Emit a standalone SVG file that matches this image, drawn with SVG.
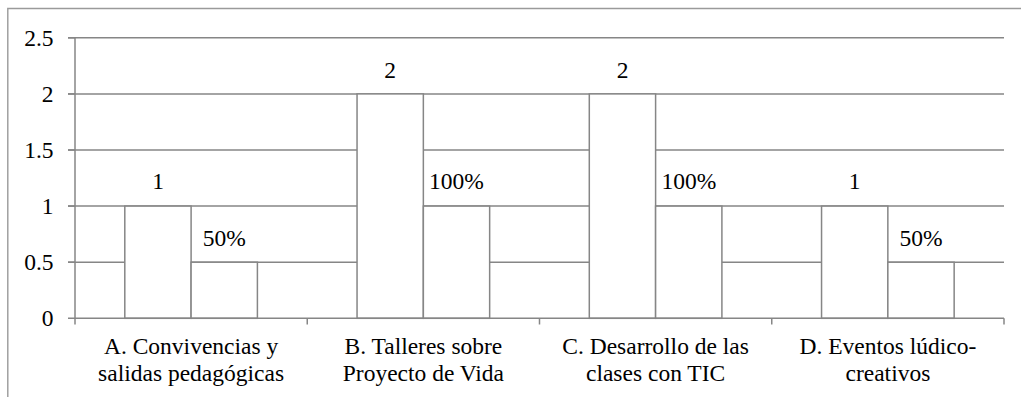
<svg xmlns="http://www.w3.org/2000/svg" width="1021" height="397" viewBox="0 0 1021 397">
  <style>
    .grid { stroke: #868686; stroke-width: 1.5; fill: none; }
    .axis { stroke: #868686; stroke-width: 1.5; fill: none; }
    .bar { fill: #ffffff; stroke: #868686; stroke-width: 1.5; }
    .frame { stroke: #9a9a9a; stroke-width: 1.4; fill: none; }
    .yl { text-anchor: end; }
    .c { text-anchor: middle; }
  </style>
  <rect x="0" y="0" width="1021" height="397" fill="#ffffff"/>
  <path class="frame" d="M1021,8.5 H7.8 V397"/>

  <g id="gridlines">
    <line class="grid" x1="68" y1="37.8" x2="1004" y2="37.8"/>
    <line class="grid" x1="68" y1="93.9" x2="1004" y2="93.9"/>
    <line class="grid" x1="68" y1="150.0" x2="1004" y2="150.0"/>
    <line class="grid" x1="68" y1="206.1" x2="1004" y2="206.1"/>
    <line class="grid" x1="68" y1="262.2" x2="1004" y2="262.2"/>
  </g>

  <g font-family="'Liberation Serif', 'Times New Roman', serif" font-size="23.5" fill="#000000">
  <g id="y-axis-labels">
    <text class="yl" x="53.5" y="45.5">2.5</text>
    <text class="yl" x="53.5" y="101.5">2</text>
    <text class="yl" x="53.5" y="157.5">1.5</text>
    <text class="yl" x="53.5" y="213.5">1</text>
    <text class="yl" x="53.5" y="269.5">0.5</text>
    <text class="yl" x="53.5" y="325.5">0</text>
  </g>

  <g id="cat-A">
    <rect class="bar" x="124.8" y="206.1" width="66.3" height="112.2"/>
    <rect class="bar" x="191.1" y="262.2" width="66.3" height="56.1"/>
    <text class="c" x="158" y="189">1</text>
    <text class="c" x="224.2" y="246">50%</text>
    <text class="c" x="191.1" y="354">A. Convivencias y</text>
    <text class="c" x="191.1" y="381">salidas pedagógicas</text>
  </g>

  <g id="cat-B">
    <rect class="bar" x="357.05" y="93.9" width="66.3" height="224.4"/>
    <rect class="bar" x="423.35" y="206.1" width="66.3" height="112.2"/>
    <text class="c" x="390.2" y="77.5">2</text>
    <text class="c" x="456.5" y="189">100%</text>
    <text class="c" x="423.4" y="354">B. Talleres sobre</text>
    <text class="c" x="423.4" y="381">Proyecto de Vida</text>
  </g>

  <g id="cat-C">
    <rect class="bar" x="589.3" y="93.9" width="66.3" height="224.4"/>
    <rect class="bar" x="655.6" y="206.1" width="66.3" height="112.2"/>
    <text class="c" x="622.5" y="77.5">2</text>
    <text class="c" x="688.8" y="189">100%</text>
    <text class="c" x="655.6" y="354">C. Desarrollo de las</text>
    <text class="c" x="655.6" y="381">clases con TIC</text>
  </g>

  <g id="cat-D">
    <rect class="bar" x="821.55" y="206.1" width="66.3" height="112.2"/>
    <rect class="bar" x="887.85" y="262.2" width="66.3" height="56.1"/>
    <text class="c" x="854.7" y="189">1</text>
    <text class="c" x="921" y="246">50%</text>
    <text class="c" x="887.9" y="354">D. Eventos lúdico-</text>
    <text class="c" x="887.9" y="381">creativos</text>
  </g>
  </g>

  <g id="axes">
    <line class="axis" x1="75" y1="37.8" x2="75" y2="324.5"/>
    <line class="axis" x1="68" y1="318.3" x2="1004" y2="318.3"/>
    <line class="axis" x1="68" y1="37.8" x2="75" y2="37.8"/>
    <line class="axis" x1="68" y1="93.9" x2="75" y2="93.9"/>
    <line class="axis" x1="68" y1="150.0" x2="75" y2="150.0"/>
    <line class="axis" x1="68" y1="206.1" x2="75" y2="206.1"/>
    <line class="axis" x1="68" y1="262.2" x2="75" y2="262.2"/>
    <line class="axis" x1="307.25" y1="318.3" x2="307.25" y2="324.5"/>
    <line class="axis" x1="539.5" y1="318.3" x2="539.5" y2="324.5"/>
    <line class="axis" x1="771.75" y1="318.3" x2="771.75" y2="324.5"/>
    <line class="axis" x1="1004" y1="318.3" x2="1004" y2="324.5"/>
  </g>
</svg>
